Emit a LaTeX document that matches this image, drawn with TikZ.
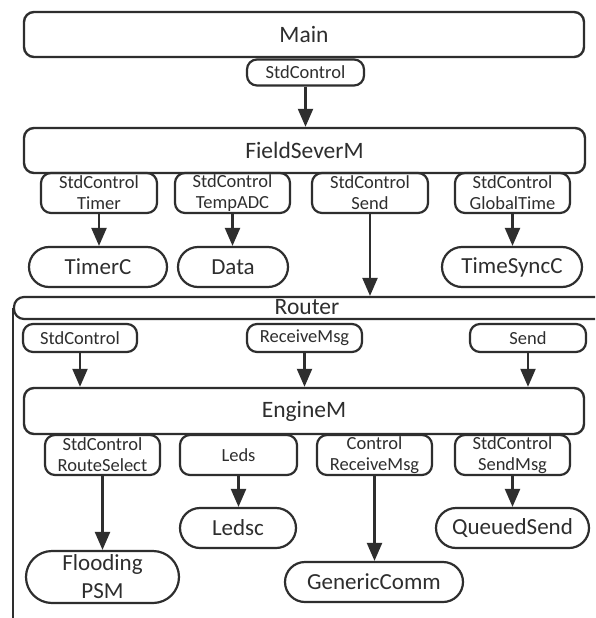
\documentclass[tikz,border=0pt]{standalone}
\usepackage{fontspec}
\setmainfont{Carlito}
\usetikzlibrary{arrows.meta}
\definecolor{ln}{HTML}{2E2E2E}
\begin{document}
\begin{tikzpicture}[x=1pt,y=-1pt,
  box/.style={draw=ln, line width=2.4pt, rounded corners=10pt, inner sep=0pt, font=\fontsize{23.5}{25}\selectfont, text=ln},
  iface/.style={draw=ln, line width=2.2pt, rounded corners=10pt, inner sep=0pt, font=\fontsize{18.5}{21}\selectfont, align=center, text=ln},
  leaf/.style={draw=ln, line width=2.2pt, rounded corners=20pt, inner sep=0pt, font=\fontsize{23}{24}\selectfont, align=center, text=ln},
  lbl/.style={inner sep=0pt, font=\fontsize{23.5}{25}\selectfont, text=ln},
  arr/.style={draw=ln, line width=2.2pt, -{Triangle[width=15pt,length=18pt]}}]
\useasboundingbox[fill=white] (0,0) rectangle (595,618);
% top level
\node[box, minimum width=560pt, minimum height=45pt] (main) at (304,34.5) {Main};
\node[iface, minimum width=117pt, minimum height=26pt] (sc0) at (305.5,72.5) {StdControl};
\node[box, minimum width=561pt, minimum height=45pt] (fsm) at (304.5,150.5) {FieldSeverM};
\node[iface, minimum width=116pt, minimum height=40pt] (i1) at (99,193) {StdControl\\Timer};
\node[iface, minimum width=115pt, minimum height=40pt] (i2) at (232.5,193) {StdControl\\TempADC};
\node[iface, minimum width=116pt, minimum height=40pt] (i3) at (370,193) {StdControl\\Send};
\node[iface, minimum width=115pt, minimum height=40pt] (i4) at (512.5,193) {StdControl\\GlobalTime};
\node[leaf, minimum width=138pt, minimum height=40pt] (timerc) at (98,267) {TimerC};
\node[leaf, minimum width=110pt, minimum height=40pt] (data) at (233,267) {Data};
\node[leaf, minimum width=140pt, minimum height=40pt] (tsync) at (512,267) {TimeSyncC};
% router frame
\begin{scope}
\clip (0,0) rectangle (595,618);
\node[draw=ln, line width=2.2pt, rounded corners=10pt, inner sep=0pt, minimum width=611pt, minimum height=22pt] (router) at (319.5,308) {};
\draw[ln, line width=2.2pt] (router.west) -- (router.west |- 0,640);
\end{scope}
\node[lbl] (routerlbl) at (307,307) {Router};
\node[iface, minimum width=114pt, minimum height=28pt] (r1) at (80,338) {StdControl};
\node[iface, minimum width=115pt, minimum height=28pt] (r2) at (304.5,338) {ReceiveMsg};
\node[iface, minimum width=116pt, minimum height=28pt] (r3) at (528,338) {Send};
\node[box, minimum width=560pt, minimum height=46pt] (eng) at (304,411) {EngineM};
\node[iface, minimum width=115pt, minimum height=40pt] (e1) at (102.5,455) {StdControl\\RouteSelect};
\node[iface, minimum width=117pt, minimum height=40pt] (e2) at (238.5,455) {Leds};
\node[iface, minimum width=115pt, minimum height=40pt] (e3) at (374.5,455) {Control\\ReceiveMsg};
\node[iface, minimum width=115pt, minimum height=40pt] (e4) at (512.5,455) {StdControl\\SendMsg};
\node[leaf, minimum width=153pt, minimum height=52pt, rounded corners=26pt, font=\fontsize{23}{28}\selectfont] (flood) at (102.5,577) {Flooding\\PSM};
\node[leaf, minimum width=116pt, minimum height=40pt] (ledsc) at (238,528) {Ledsc};
\node[leaf, minimum width=178pt, minimum height=40pt] (gcomm) at (374,582) {GenericComm};
\node[leaf, minimum width=153pt, minimum height=40pt] (qsend) at (512.5,528) {QueuedSend};
% connectors
\draw[arr] (sc0.south) -- (sc0.south |- fsm.north);
\draw[arr] (i1.south) -- (i1.south |- timerc.north);
\draw[arr] (i2.south) -- (i2.south |- data.north);
\draw[arr] (i4.south) -- (i4.south |- tsync.north);
\draw[arr] (i3.south) -- (i3.south |- router.north);
\draw[arr] (r1.south) -- (r1.south |- eng.north);
\draw[arr] (r2.south) -- (r2.south |- eng.north);
\draw[arr] (r3.south) -- (r3.south |- eng.north);
\draw[arr] (e1.south) -- (e1.south |- flood.north);
\draw[arr] (e2.south) -- (e2.south |- ledsc.north);
\draw[arr] (e3.south) -- (e3.south |- gcomm.north);
\draw[arr] (e4.south) -- (e4.south |- qsend.north);
\end{tikzpicture}
\end{document}
